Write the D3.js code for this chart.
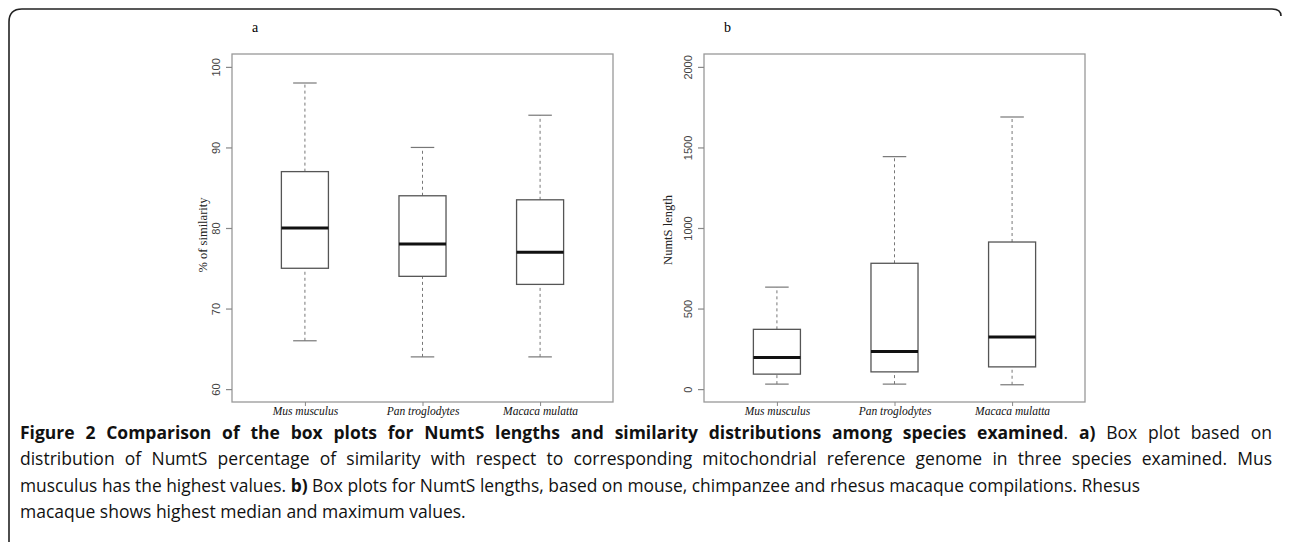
<!DOCTYPE html>
<html>
<head>
<meta charset="utf-8">
<script src="https://cdn.jsdelivr.net/npm/d3@7"></script>
<style>
  body { margin: 0; background: #fff; }
  svg { display: block; }
</style>
</head>
<body>
<div id="chart"></div>
<script>
// species on the x axis of both panels
const species = ["Mus musculus", "Pan troglodytes", "Macaca mulatta"];

// box stats: [lower whisker, Q1, median, Q3, upper whisker]
const similarityStats = [
    [66, 75, 80, 87, 98],
    [64, 74, 78, 84, 90],
    [64, 73, 77, 83.5, 94]
];
const lengthStats = [
    [31, 93, 196, 371, 633],
    [31, 107, 233, 781, 1443],
    [27, 138, 324, 913, 1689]
];

const similarityTicks = [60, 70, 80, 90, 100];
const lengthTicks = [0, 500, 1000, 1500, 2000];

const W = 1290, H = 547;

const svg = d3.select("#chart")
    .append("svg")
    .attr("width", W)
    .attr("height", H);

// frame round the figure
svg.append("path")
    .attr("d", "M9,542 L9,22 Q9,9 22,9 L1272,9 Q1281,9 1281,16")
    .attr("fill", "none")
    .attr("stroke", "#222")
    .attr("stroke-width", 1.6);

const plotW = 381, plotH = 348;

function drawPanel(left, top, letter, stats, ticks, yDomain, yLabel, labelOffset, labelMid) {
    const g = svg.append("g").attr("transform", `translate(${left},${top})`);

    const x = d3.scaleLinear().domain([0.38, 3.62]).range([0, plotW]);
    const y = d3.scaleLinear().domain(yDomain).range([plotH, 0]);
    const boxW = x(1.4) - x(1);
    const capW = boxW / 2;

    // panel letter
    g.append("text")
        .attr("x", 20)
        .attr("y", -22)
        .style("font-family", "'Liberation Serif', 'DejaVu Serif', serif")
        .style("font-size", "14px")
        .text(letter);

    const boxes = g.selectAll(".box")
        .data(stats)
        .enter()
        .append("g")
        .attr("class", "box")
        .attr("transform", (d, i) => `translate(${x(i + 1)},0)`);

    // dashed whiskers
    boxes.append("line")
        .attr("y1", d => y(d[0])).attr("y2", d => y(d[1]))
        .attr("stroke", "#777").attr("stroke-dasharray", "3,3");
    boxes.append("line")
        .attr("y1", d => y(d[3])).attr("y2", d => y(d[4]))
        .attr("stroke", "#777").attr("stroke-dasharray", "3,3");

    // caps
    [0, 4].forEach(k => {
        boxes.append("line")
            .attr("x1", -capW / 2).attr("x2", capW / 2)
            .attr("y1", d => y(d[k])).attr("y2", d => y(d[k]))
            .attr("stroke", "#777").attr("stroke-width", 1.2);
    });

    boxes.append("rect")
        .attr("x", -boxW / 2)
        .attr("width", boxW)
        .attr("y", d => y(d[3]))
        .attr("height", d => y(d[1]) - y(d[3]))
        .attr("fill", "#fff")
        .attr("stroke", "#555")
        .attr("stroke-width", 1.3);

    boxes.append("line")
        .attr("x1", -boxW / 2).attr("x2", boxW / 2)
        .attr("y1", d => y(d[2])).attr("y2", d => y(d[2]))
        .attr("stroke", "#111").attr("stroke-width", 3);

    // plot border
    g.append("rect")
        .attr("width", plotW).attr("height", plotH)
        .attr("fill", "none")
        .attr("stroke", "#999")
        .attr("stroke-width", 1.3);

    // y axis
    const yAxis = g.append("g")
        .call(d3.axisLeft(y).tickValues(ticks).tickSize(6).tickFormat(d3.format("d")));
    yAxis.select(".domain").remove();
    yAxis.selectAll(".tick line").attr("stroke", "#888").attr("stroke-width", 1.2);
    yAxis.selectAll(".tick text")
        .attr("x", 0)
        .attr("text-anchor", "middle")
        .attr("transform", "translate(-16,0) rotate(-90)")
        .attr("dy", "0.35em")
        .style("font-family", "'Liberation Sans', Arial, sans-serif")
        .style("font-size", "11px")
        .attr("fill", "#444");

    // x axis
    const xAxis = g.append("g")
        .attr("transform", `translate(0,${plotH})`)
        .call(d3.axisBottom(x).tickValues([1, 2, 3]).tickSize(4).tickPadding(1)
            .tickFormat((d, i) => species[i]));
    xAxis.select(".domain").remove();
    xAxis.selectAll(".tick line").attr("stroke", "#888");
    xAxis.selectAll(".tick text")
        .style("font-family", "'Liberation Serif', 'DejaVu Serif', serif")
        .style("font-style", "italic")
        .style("font-size", "11.5px")
        .attr("fill", "#111");

    // y axis title
    g.append("text")
        .attr("transform", `translate(${-labelOffset},${labelMid}) rotate(-90)`)
        .attr("text-anchor", "middle")
        .attr("dy", "0.35em")
        .style("font-family", "'Liberation Serif', 'DejaVu Serif', serif")
        .style("font-size", "12.5px")
        .attr("fill", "#222")
        .text(yLabel);
}

drawPanel(232, 54, "a", similarityStats, similarityTicks, [58.4, 101.6], "% of similarity", 29, 181);
drawPanel(704, 54, "b", lengthStats, lengthTicks, [-80, 2080], "NumtS length", 36, 176);

// caption, four lines as in the figure; the last one is not justified
const lines = [
    [["Figure 2 Comparison of the box plots for NumtS lengths and similarity distributions among species examined", true], [". ", false], ["a)", true], [" Box plot based on", false]],
    [["distribution of NumtS percentage of similarity with respect to corresponding mitochondrial reference genome in three species examined. Mus", false]],
    [["musculus has the highest values. ", false], ["b)", true], [" Box plots for NumtS lengths, based on mouse, chimpanzee and rhesus macaque compilations. Rhesus", false]],
    [["macaque shows highest median and maximum values.", false]]
];
const lineWidths = [1252, 1252, 1120, 0];

lines.forEach((parts, i) => {
    const t = svg.append("text")
        .attr("x", 20)
        .attr("y", 438.5 + i * 26.5)
        .style("font-family", "'Open Sans', 'Noto Sans', sans-serif")
        .style("font-size", "17.5px")
        .attr("fill", "#111");
    parts.forEach(p => {
        t.append("tspan")
            .style("font-weight", p[1] ? "bold" : "normal")
            .text(p[0]);
    });
    const target = lineWidths[i];
    if (!target) return;
    const w = t.node().getComputedTextLength();
    const spaces = parts.map(p => p[0]).join("").split(" ").length - 1;
    if (w < target) {
        t.style("word-spacing", ((target - w) / spaces) + "px");
    } else {
        t.attr("textLength", target).attr("lengthAdjust", "spacingAndGlyphs");
    }
});
</script>
</body>
</html>
